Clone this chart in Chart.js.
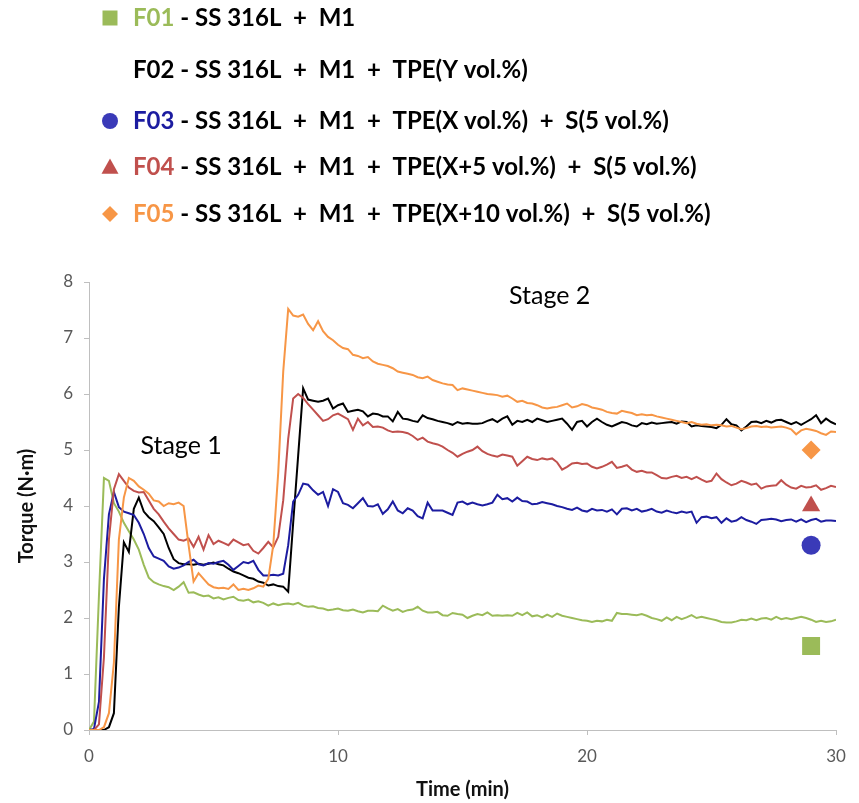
<!DOCTYPE html>
<html>
<head>
<meta charset="utf-8">
<script src="https://cdn.jsdelivr.net/npm/chart.js@4/dist/chart.umd.min.js"></script>
<style>
  html, body { margin: 0; padding: 0; background: #ffffff; }
  canvas { display: block; }
</style>
</head>
<body>
<canvas id="torque" width="859" height="803"></canvas>
<script>
// Mixing torque recorded every 0.2 min over 30 min
const SAMPLE_STEP = 0.2;
const timeMin = Array.from({ length: 151 }, (_, i) => +(i * SAMPLE_STEP).toFixed(1));

const torqueF01 = [
  0, 0.15, 2.4, 4.5, 4.45, 4.05, 3.9, 3.7, 3.55, 3.4,
  3.22, 2.95, 2.72, 2.64, 2.6, 2.57, 2.55, 2.5, 2.56, 2.64,
  2.45, 2.46, 2.42, 2.39, 2.4, 2.35, 2.37, 2.33, 2.36, 2.38,
  2.32, 2.31, 2.33, 2.28, 2.3, 2.27, 2.22, 2.26, 2.23, 2.25,
  2.26, 2.24, 2.27, 2.22, 2.2, 2.21, 2.18, 2.17, 2.14, 2.15,
  2.17, 2.14, 2.13, 2.15, 2.12, 2.1, 2.13, 2.13, 2.12, 2.22,
  2.17, 2.13, 2.16, 2.11, 2.14, 2.15, 2.2, 2.13, 2.1, 2.1,
  2.11, 2.05, 2.04, 2.09, 2.07, 2.06, 2.0, 2.04, 2.07, 2.05,
  2.1, 2.04, 2.05, 2.04, 2.05, 2.04, 2.09, 2.05, 2.1, 2.03,
  2.05, 2.01, 2.06, 2.02, 2.08, 2.04, 2.02, 2.0, 1.98, 1.96,
  1.95, 1.93, 1.95, 1.94, 1.97, 1.95, 2.09, 2.07, 2.07, 2.06,
  2.05, 2.07, 2.04, 2.0, 1.98, 1.95, 2.01, 1.96, 2.02, 1.98,
  2.01, 2.05, 2.0, 2.02, 2.0, 1.98, 1.96, 1.93, 1.92, 1.92,
  1.94, 1.97, 1.96, 1.99, 1.96, 1.99, 2.0, 1.97, 2.02, 1.98,
  2.0, 1.98, 2.0, 2.02, 2.0, 1.97, 1.93, 1.95, 1.93, 1.94,
  1.97
];

const torqueF02 = [
  0, 0, 0, 0, 0.05, 0.3, 2.2, 3.35, 3.18, 3.95,
  4.15, 3.9, 3.8, 3.73, 3.62, 3.5, 3.25, 3.05, 2.98, 2.96,
  2.96, 2.95, 2.97, 2.95, 2.97, 2.99, 2.96, 2.94, 2.88, 2.83,
  2.8, 2.76, 2.72, 2.7, 2.65, 2.63, 2.58, 2.6, 2.57, 2.56,
  2.47, 3.7, 4.9, 6.1, 5.9, 5.88, 5.86, 5.88, 5.92, 5.74,
  5.8, 5.83, 5.68, 5.7, 5.72, 5.69, 5.6, 5.65, 5.64, 5.6,
  5.6, 5.51, 5.68, 5.56, 5.55, 5.52, 5.5, 5.62, 5.57, 5.55,
  5.52, 5.5, 5.48, 5.45, 5.5, 5.47, 5.48, 5.47, 5.47, 5.48,
  5.52, 5.55, 5.5, 5.56, 5.6, 5.45, 5.52, 5.5, 5.54, 5.5,
  5.56, 5.53, 5.5, 5.52, 5.54, 5.56, 5.47, 5.36, 5.5, 5.52,
  5.42, 5.5, 5.56, 5.5, 5.45, 5.42, 5.46, 5.5, 5.48, 5.44,
  5.42, 5.48, 5.46, 5.49, 5.47, 5.48, 5.49, 5.5, 5.47, 5.51,
  5.5, 5.42, 5.44, 5.43, 5.42, 5.41, 5.39, 5.45, 5.55, 5.46,
  5.44, 5.35, 5.42, 5.5, 5.51, 5.48, 5.52, 5.49, 5.53, 5.54,
  5.5, 5.46, 5.5, 5.45, 5.5, 5.55, 5.62, 5.48, 5.56, 5.5,
  5.46
];

const torqueF03 = [
  0, 0.02, 0.5, 2.7, 3.85, 4.25, 3.98, 3.9, 3.87, 3.84,
  3.7, 3.5, 3.25, 3.1, 3.06, 3.02, 2.92, 2.88, 2.9, 2.94,
  3.0, 3.04, 2.96, 2.94, 2.98, 2.97, 3.0, 3.02, 2.95, 2.86,
  2.93, 3.0, 2.98, 3.02, 2.86, 2.76, 2.76, 2.77, 2.76, 2.79,
  3.3, 4.08, 4.2, 4.4, 4.38, 4.28, 4.2, 4.25, 4.0, 4.3,
  4.25, 4.05, 4.02, 3.96, 4.05, 4.14, 4.0, 3.99, 4.03, 3.86,
  3.94, 4.08, 3.92, 3.87, 3.96, 3.92, 3.82, 3.78, 4.06, 3.92,
  3.92, 3.92, 3.88, 3.84, 4.06, 4.08, 4.03, 4.06, 4.03, 4.01,
  4.03, 4.06, 4.2, 4.12, 4.14, 4.08, 4.15, 4.09, 4.08, 4.03,
  4.04, 4.07, 4.05, 4.03, 4.0, 3.98, 3.95, 3.93, 3.97, 3.92,
  3.9, 3.95, 3.92, 3.93, 3.9, 3.94, 3.85, 3.95, 3.96, 3.92,
  3.95, 3.9, 3.92, 3.95, 3.9, 3.88, 3.92, 3.89, 3.87, 3.9,
  3.88, 3.9, 3.7, 3.8, 3.81, 3.78, 3.8, 3.7, 3.78, 3.72,
  3.74, 3.8, 3.75, 3.72, 3.68, 3.75, 3.76, 3.77, 3.76, 3.73,
  3.75, 3.76, 3.72, 3.76, 3.71, 3.75, 3.77, 3.72, 3.74, 3.74,
  3.73
];

const torqueF04 = [
  0, 0, 0.1, 1.3, 3.4, 4.3, 4.57, 4.45, 4.33, 4.27,
  4.24, 4.25, 4.1, 3.95, 3.85, 3.72, 3.6, 3.5, 3.4, 3.38,
  3.42, 3.27, 3.45, 3.22, 3.48, 3.32, 3.38, 3.34, 3.3, 3.4,
  3.35, 3.3, 3.32, 3.2, 3.15, 3.25, 3.36, 3.26, 3.45, 4.1,
  5.2, 5.92, 6.0, 5.93, 5.82, 5.72, 5.62, 5.52, 5.55, 5.62,
  5.65, 5.6, 5.55, 5.36, 5.56, 5.44, 5.5, 5.41, 5.42, 5.4,
  5.35, 5.32, 5.33, 5.32, 5.3, 5.25, 5.18, 5.22, 5.15, 5.12,
  5.1, 5.06, 5.0, 4.95, 4.88, 4.93, 4.97, 5.0, 5.06, 4.98,
  4.93, 4.9, 4.88, 4.92, 4.9, 4.88, 4.72, 4.8, 4.88, 4.84,
  4.82, 4.85, 4.83, 4.85, 4.78, 4.65, 4.7, 4.76, 4.77, 4.75,
  4.76, 4.7, 4.67, 4.7, 4.74, 4.79, 4.68, 4.7, 4.73, 4.65,
  4.61, 4.63, 4.6, 4.6, 4.55, 4.5, 4.49, 4.52, 4.54, 4.5,
  4.52, 4.48, 4.52, 4.47, 4.43, 4.45, 4.58, 4.48, 4.42, 4.37,
  4.4, 4.45, 4.42, 4.38, 4.4, 4.31, 4.35, 4.36, 4.37, 4.46,
  4.38, 4.33, 4.31, 4.36, 4.33, 4.34, 4.37, 4.29, 4.32, 4.36,
  4.34
];

const torqueF05 = [
  0, 0, 0, 0.05, 0.3, 1.2, 3.4, 4.15, 4.5, 4.45,
  4.35, 4.29, 4.22, 4.1, 4.08, 4.0, 4.05, 4.03, 4.06, 4.0,
  3.3, 2.65, 2.8, 2.7, 2.6, 2.55, 2.53, 2.54, 2.52, 2.6,
  2.5, 2.52, 2.5, 2.53, 2.58, 2.56, 2.7, 3.3, 4.6, 6.4,
  7.52, 7.4, 7.38, 7.42, 7.25, 7.14, 7.3, 7.12, 7.02, 6.96,
  6.88, 6.82, 6.8, 6.7, 6.68, 6.64, 6.66, 6.58, 6.54, 6.52,
  6.5, 6.46, 6.4, 6.38, 6.36, 6.34, 6.3, 6.28, 6.31, 6.25,
  6.22, 6.19, 6.17, 6.16, 6.07, 6.1, 6.08, 6.06, 6.04, 6.02,
  6.0, 5.99, 5.98, 5.95, 5.97, 5.92, 5.86, 5.88, 5.84, 5.83,
  5.8, 5.76, 5.74, 5.76, 5.77, 5.8, 5.83, 5.76, 5.78, 5.82,
  5.8, 5.76, 5.74, 5.72, 5.68, 5.66, 5.65, 5.7, 5.68, 5.66,
  5.62, 5.64, 5.62, 5.63, 5.6, 5.58, 5.56, 5.54, 5.52, 5.5,
  5.48, 5.5, 5.47, 5.45, 5.46, 5.44, 5.45, 5.44, 5.42, 5.43,
  5.4, 5.37, 5.39, 5.42, 5.43, 5.41, 5.42, 5.4, 5.41, 5.42,
  5.4, 5.37, 5.28, 5.35, 5.38, 5.36, 5.34, 5.3, 5.27, 5.33,
  5.32
];

// Single reference points plotted at the right-hand side
const markerTime = 29;
const markerCodes = ['F01', 'F03', 'F04', 'F05'];
const markerTorque = [1.5, 3.3, 4.0, 5.0];

// Axis ticks
const timeTicks = [0, 10, 20, 30];
const torqueTicks = [0, 1, 2, 3, 4, 5, 6, 7, 8];

// Legend rows
const legendCodes = ['F01', 'F02', 'F03', 'F04', 'F05'];
const legendText = [
  ' - SS 316L  +  M1',
  ' - SS 316L  +  M1  +  TPE(Y vol.%)',
  ' - SS 316L  +  M1  +  TPE(X vol.%)  +  S(5 vol.%)',
  ' - SS 316L  +  M1  +  TPE(X+5 vol.%)  +  S(5 vol.%)',
  ' - SS 316L  +  M1  +  TPE(X+10 vol.%)  +  S(5 vol.%)'
];

// Stage annotations
const stageText = ['Stage 1', 'Stage 2'];
const stageTime = [3.7, 18.5];
const stageTorque = [5.07, 7.75];

const FONT = 'Lato, "Open Sans", "DejaVu Sans", sans-serif';
const COLORS = {
  F01: '#9BBB59',
  F02: '#000000',
  F03: '#1C1CA0',
  F04: '#C0504D',
  F05: '#F79646'
};
const MARKER_COLORS = { F01: '#9BBB59', F03: '#3A3AB8', F04: '#C0504D', F05: '#F79646' };
const MARKER_STYLE = { F01: 'rect', F03: 'circle', F04: 'triangle', F05: 'rectRot' };
const MARKER_SIZE = { F01: 12.7, F03: 9.5, F04: 10.5, F05: 9.5 };

const series = { F01: torqueF01, F02: torqueF02, F03: torqueF03, F04: torqueF04, F05: torqueF05 };

const lineSets = legendCodes.map((code, i) => ({
  label: code,
  data: timeMin.map((t, k) => ({ x: t, y: series[code][k] })),
  borderColor: COLORS[code],
  backgroundColor: COLORS[code],
  borderWidth: 2,
  pointRadius: 0,
  tension: 0,
  fill: false,
  order: 10 - i
}));

const markerSets = markerCodes.map((code, i) => ({
  label: code + ' point',
  data: [{ x: markerTime, y: markerTorque[i] }],
  showLine: false,
  pointStyle: MARKER_STYLE[code],
  pointRadius: MARKER_SIZE[code],
  pointBackgroundColor: MARKER_COLORS[code],
  pointBorderWidth: 0,
  order: 0
}));

// Legend marker shapes
function drawShape(ctx, style, cx, cy, r, color) {
  ctx.fillStyle = color;
  ctx.beginPath();
  if (style === 'rect') {
    ctx.rect(cx - r, cy - r, 2 * r, 2 * r);
  } else if (style === 'circle') {
    ctx.arc(cx, cy, r, 0, Math.PI * 2);
  } else if (style === 'triangle') {
    ctx.moveTo(cx, cy - r);
    ctx.lineTo(cx + r, cy + r * 0.8);
    ctx.lineTo(cx - r, cy + r * 0.8);
    ctx.closePath();
  } else if (style === 'rectRot') {
    ctx.moveTo(cx, cy - r);
    ctx.lineTo(cx + r, cy);
    ctx.lineTo(cx, cy + r);
    ctx.lineTo(cx - r, cy);
    ctx.closePath();
  }
  ctx.fill();
}

const annotate = {
  id: 'annotate',
  afterDraw(chart) {
    const { ctx, scales: { x, y } } = chart;
    ctx.save();

    // stage labels
    ctx.fillStyle = '#000';
    ctx.font = '25px ' + FONT;
    ctx.textAlign = 'center';
    ctx.textBaseline = 'middle';
    stageText.forEach((t, i) => {
      ctx.fillText(t, x.getPixelForValue(stageTime[i]), y.getPixelForValue(stageTorque[i]));
    });

    // legend block
    const rowY = [18, 70, 121, 167, 214];
    const markerR = { F01: 7.5, F03: 8, F04: 8.5, F05: 8 };
    ctx.textAlign = 'left';
    ctx.textBaseline = 'middle';
    ctx.font = 'bold 24px ' + FONT;
    legendCodes.forEach((code, i) => {
      const cy = rowY[i];
      if (MARKER_STYLE[code]) {
        drawShape(ctx, MARKER_STYLE[code], 110, cy, markerR[code], MARKER_COLORS[code]);
      }
      let tx = 133;
      ctx.fillStyle = COLORS[code];
      ctx.fillText(code, tx, cy);
      tx += ctx.measureText(code).width;
      ctx.fillStyle = '#000';
      ctx.fillText(legendText[i], tx, cy);
    });
    ctx.restore();
  }
};

new Chart(document.getElementById('torque'), {
  type: 'line',
  data: { datasets: [...lineSets, ...markerSets] },
  options: {
    responsive: false,
    animation: false,
    devicePixelRatio: 1,
    layout: { padding: { top: 282, right: 23, left: 0, bottom: 0 } },
    plugins: {
      legend: { display: false },
      tooltip: { enabled: false }
    },
    scales: {
      x: {
        type: 'linear',
        min: 0,
        max: 30,
        afterBuildTicks(scale) { scale.ticks = timeTicks.map(v => ({ value: v })); },
        ticks: { color: '#595959', font: { family: FONT, size: 17 }, padding: 11, maxRotation: 0 },
        grid: { drawOnChartArea: false, tickLength: 5, color: '#BFBFBF' },
        border: { color: '#BFBFBF', width: 1 },
        title: {
          display: true, text: 'Time (min)', color: '#111',
          font: { family: FONT, size: 20, weight: 'bold' },
          padding: { top: 0, bottom: 1 }
        },
        afterFit(scale) { scale.height = 73; }
      },
      y: {
        min: 0,
        max: 8,
        afterBuildTicks(scale) { scale.ticks = torqueTicks.map(v => ({ value: v })); },
        ticks: { color: '#595959', font: { family: FONT, size: 17 }, padding: 11 },
        grid: { drawOnChartArea: false, tickLength: 5, color: '#BFBFBF' },
        border: { color: '#BFBFBF', width: 1 },
        title: {
          display: true, text: 'Torque (N·m)', color: '#111',
          font: { family: FONT, size: 20, weight: 'bold' },
          padding: { top: 15, bottom: 0 }
        },
        afterFit(scale) { scale.width = 89; }
      }
    }
  },
  plugins: [annotate]
});
</script>
</body>
</html>
